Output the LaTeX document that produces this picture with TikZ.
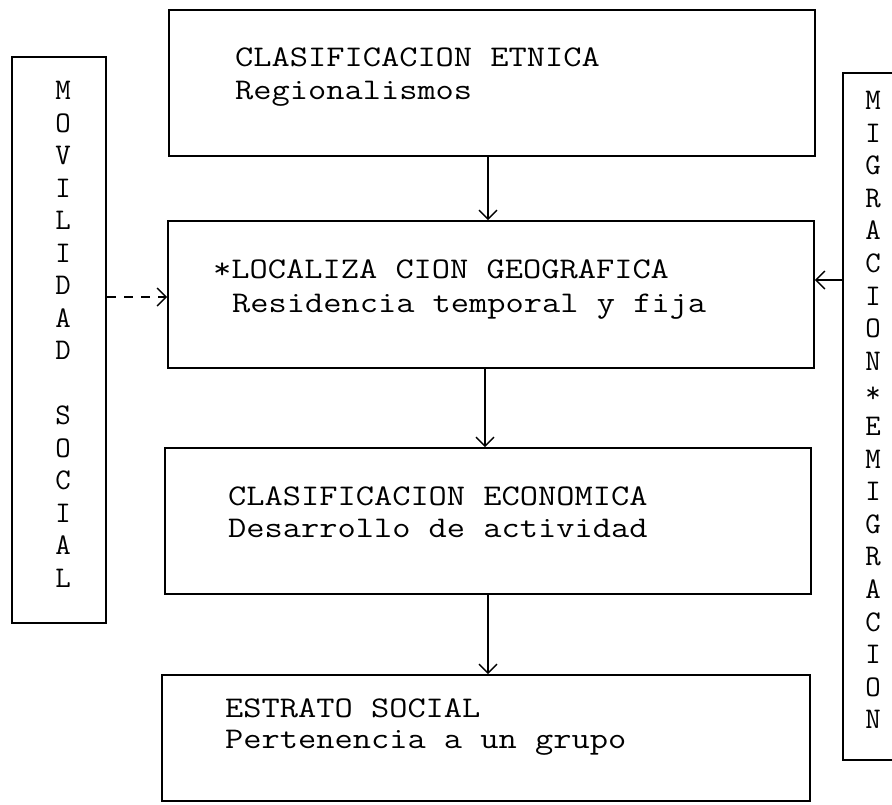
\documentclass[tikz,border=0pt]{standalone}
\usepackage{fontspec}
\usepackage{graphicx}
\usetikzlibrary{arrows.meta}
\newcommand{\twx}[1]{\scalebox{1.18}[1]{#1}}
\tikzset{
  mainbox/.style={draw, line width=1.6pt, rectangle, inner sep=0pt},
  sidebox/.style={draw, line width=2.6pt, rectangle, inner sep=0pt},
  lbl/.style={anchor=base west, inner sep=0pt, font=\ttfamily\fontsize{30}{33}\selectfont},
  stackl/.style={anchor=north, align=center, inner sep=0pt, font=\ttfamily\fontsize{30}{32.5}\selectfont},
  stackr/.style={anchor=north, align=center, inner sep=0pt, font=\ttfamily\fontsize{30}{32.6}\selectfont},
  arr/.style={-{Straight Barb[length=9pt,width=18pt]}, line width=1.4pt},
  dasharr/.style={arr, dash pattern=on 9pt off 8pt}
}
\begin{document}
\begin{tikzpicture}[x=1pt,y=-1pt]
\useasboundingbox (0,0) rectangle (892,804);
\clip (0,0) rectangle (892,804);
% main boxes
\node[mainbox, minimum width=646pt, minimum height=146pt] (b1) at (492,83) {};
\node[mainbox, minimum width=646pt, minimum height=147pt] (b2) at (491,294.5) {};
\node[mainbox, minimum width=646pt, minimum height=146pt] (b3) at (488,521) {};
\node[mainbox, minimum width=648pt, minimum height=126pt] (b4) at (486,738) {};
% side boxes
\node[sidebox, minimum width=94pt, minimum height=566pt] (ls) at (59,340) {};
\node[sidebox, minimum width=80pt, minimum height=687pt] (rs) at (883,416.5) {};
% texts
\node[lbl] (t1a) at (235,66) {\twx{CLASIFICACION ETNICA}};
\node[lbl] (t1b) at (235,99) {\twx{Regionalismos}};
\node[lbl] (t2a) at (213,278) {\twx{*LOCALIZA CION GEOGRAFICA}};
\node[lbl] (t2b) at (232,312) {\twx{Residencia temporal y fija}};
\node[lbl] (t3a) at (228,505) {\twx{CLASIFICACION ECONOMICA}};
\node[lbl] (t3b) at (228,537) {\twx{Desarrollo de actividad}};
\node[lbl] (t4a) at (225,717) {\twx{ESTRATO SOCIAL}};
\node[lbl] (t4b) at (225,748) {\twx{Pertenencia a un grupo}};
\node[stackl] (lt) at (63,81) {M\\O\\V\\I\\L\\I\\D\\A\\D\\[32.5pt]S\\O\\C\\I\\A\\L};
\node[stackr] (rt) at (873,91) {M\\I\\G\\R\\A\\C\\I\\O\\N\\*\\E\\M\\I\\G\\R\\A\\C\\I\\O\\N};
% connectors
\coordinate (x1) at (488,0);
\coordinate (x2) at (485,0);
\coordinate (x3) at (488,0);
\coordinate (yl) at (0,297);
\coordinate (yr) at (0,280);
\draw[arr] (x1 |- b1.south) -- (x1 |- b2.north);
\draw[arr] (x2 |- b2.south) -- (x2 |- b3.north);
\draw[arr] (x3 |- b3.south) -- (x3 |- b4.north);
\draw[dasharr] (ls.east |- yl) -- (b2.west |- yl);
\draw[arr] (rs.west |- yr) -- (b2.east |- yr);
\end{tikzpicture}
\end{document}
